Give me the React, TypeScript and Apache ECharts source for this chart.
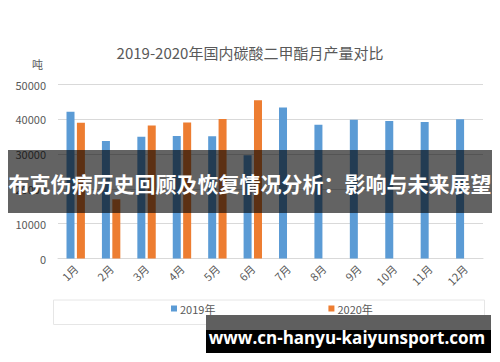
import React, { useEffect, useRef } from "react";
import * as echarts from "echarts";

const categories = ["1月", "2月", "3月", "4月", "5月", "6月", "7月", "8月", "9月", "10月", "11月", "12月"];
const values2019 = [42200, 33800, 35000, 35200, 35100, 29700, 43400, 38400, 39900, 39500, 39200, 40000];
const values2020 = [39000, 17000, 38200, 39100, 40100, 45500, null, null, null, null, null, null];
const seriesNames = ["2019年", "2020年"];
const titleText = "2019-2020年国内碳酸二甲酯月产量对比";
const unitText = "吨";
const bannerText = "布克伤病历史回顾及恢复情况分析：影响与未来展望";
const footerText = "www.cn-hanyu-kaiyunsport.com";

const FONT = "'Noto Sans CJK SC', 'Noto Sans', sans-serif";

export default function App() {
  const ref = useRef<HTMLDivElement>(null);
  useEffect(() => {
    if (!ref.current) return;
    const chart = echarts.init(ref.current, null, { renderer: "svg" });
    chart.setOption({
      animation: false,
      backgroundColor: "#ffffff",
      textStyle: { fontFamily: FONT },
      title: {
        text: titleText,
        left: "center",
        top: 40,
        textStyle: { fontSize: 15, fontWeight: "normal", color: "#595959", fontFamily: FONT },
      },
      legend: {
        data: seriesNames,
        left: 166,
        top: 298,
        itemWidth: 6,
        itemHeight: 6,
        itemGap: 113,
        icon: "rect",
        textStyle: { fontSize: 11, color: "#595959", fontFamily: FONT, padding: [0, 0, 0, -2] },
      },
      grid: { left: 58, right: 17, top: 84.5, bottom: 103.5, containLabel: false },
      xAxis: {
        type: "category",
        data: categories,
        axisLine: { lineStyle: { color: "#d9d9d9" } },
        axisTick: { show: false },
        axisLabel: { rotate: 45, color: "#595959", fontSize: 11, margin: 8, fontFamily: FONT },
      },
      yAxis: {
        type: "value",
        min: 0,
        max: 50000,
        interval: 10000,
        name: unitText,
        nameLocation: "end",
        nameGap: 15,
        nameTextStyle: { color: "#595959", fontSize: 11, align: "right", padding: [0, 15, 0, 0] },
        axisLine: { show: false },
        axisTick: { show: false },
        axisLabel: {
          color: "#595959",
          fontSize: 11,
          margin: 12,
          fontFamily: FONT,
          formatter: (v: number) => String(v),
        },
        splitLine: { lineStyle: { color: "#d9d9d9" } },
      },
      series: [
        {
          name: seriesNames[0],
          type: "bar",
          data: values2019,
          barWidth: 8,
          barGap: "30%",
          itemStyle: { color: "#5B9BD5" },
        },
        {
          name: seriesNames[1],
          type: "bar",
          data: values2020,
          barWidth: 8,
          itemStyle: { color: "#ED7D31" },
        },
      ],
      graphic: [
        {
          type: "rect",
          left: 51,
          top: 297.5,
          shape: { width: 431, height: 24.5 },
          style: { fill: "none", stroke: "#e6e6e6", lineWidth: 1 },
          z: 1,
        },
        {
          type: "rect",
          x: 8,
          y: 150,
          shape: { width: 484, height: 63 },
          style: { fill: "rgba(0,0,0,0.61)" },
          z: 100,
        },
        {
          type: "text",
          x: 250,
          y: 183,
          style: {
            text: bannerText,
            fill: "#ffffff",
            font: "bold 21px 'Noto Sans CJK SC', sans-serif",
            textAlign: "center",
            textVerticalAlign: "middle",
          },
          z: 101,
        },
        {
          type: "rect",
          x: 206,
          y: 315,
          shape: { width: 285, height: 15 },
          style: { fill: "#5f5f5f" },
          z: 100,
        },
        {
          type: "rect",
          x: 206,
          y: 330,
          shape: { width: 285, height: 23 },
          style: { fill: "#000000" },
          z: 100,
        },
        {
          type: "text",
          x: 347,
          y: 337,
          style: {
            text: footerText,
            fill: "#ffffff",
            font: "bold 17px 'Open Sans', 'DejaVu Sans', sans-serif",
            textAlign: "center",
            textVerticalAlign: "middle",
          },
          z: 101,
        },
      ],
    });
    return () => chart.dispose();
  }, []);
  return <div ref={ref} style={{ width: 500, height: 362, position: "absolute", left: 0, top: 0 }} />;
}
